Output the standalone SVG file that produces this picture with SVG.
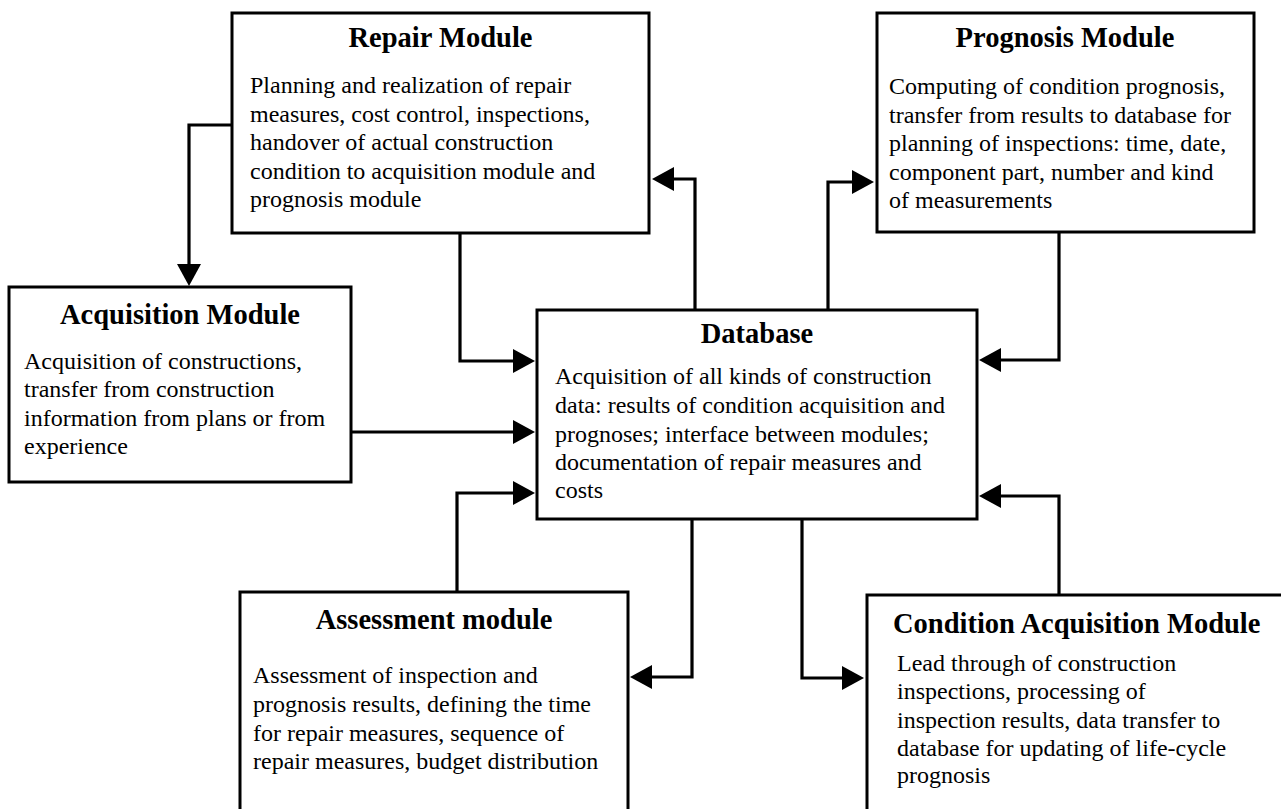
<svg xmlns="http://www.w3.org/2000/svg" width="1281" height="809" viewBox="0 0 1281 809">
<style>
.box{fill:#fff;stroke:#000;stroke-width:3}
.t{font-family:"Liberation Serif","Times New Roman",serif;font-weight:bold;font-size:28.5px;fill:#000}
.b{font-family:"Liberation Serif","Times New Roman",serif;font-size:24px;fill:#000}
.c{fill:none;stroke:#000;stroke-width:3.2;stroke-linejoin:miter;stroke-linecap:butt}
</style>
<defs>
<marker id="ah" markerUnits="userSpaceOnUse" markerWidth="24" markerHeight="24" refX="1" refY="12" orient="auto" overflow="visible">
<path d="M0,0 L22,12 L0,24 Z" fill="#000"/>
</marker>
</defs>
<rect width="1281" height="809" fill="#fff"/>

<g id="repair">
<rect class="box" x="232" y="13" width="417" height="220"/>
<text class="t" x="440.5" y="47" text-anchor="middle">Repair Module</text>
<text class="b" x="250" y="93">Planning and realization of repair</text>
<text class="b" x="250" y="122">measures, cost control, inspections,</text>
<text class="b" x="250" y="150">handover of actual construction</text>
<text class="b" x="250" y="179">condition to acquisition module and</text>
<text class="b" x="250" y="207">prognosis module</text>
</g>

<g id="prognosis">
<rect class="box" x="877" y="13" width="377" height="219"/>
<text class="t" x="1065" y="47" text-anchor="middle">Prognosis Module</text>
<text class="b" x="889" y="94">Computing of condition prognosis,</text>
<text class="b" x="889" y="123">transfer from results to database for</text>
<text class="b" x="889" y="151">planning of inspections: time, date,</text>
<text class="b" x="889" y="180">component part, number and kind</text>
<text class="b" x="889" y="208">of measurements</text>
</g>

<g id="acquisition">
<rect class="box" x="9" y="287" width="342" height="195"/>
<text class="t" x="180" y="324" text-anchor="middle">Acquisition Module</text>
<text class="b" x="24" y="369">Acquisition of constructions,</text>
<text class="b" x="24" y="397">transfer from construction</text>
<text class="b" x="24" y="426">information from plans or from</text>
<text class="b" x="24" y="454">experience</text>
</g>

<g id="database">
<rect class="box" x="537" y="310" width="440" height="209"/>
<text class="t" x="757" y="343" text-anchor="middle">Database</text>
<text class="b" x="555" y="384">Acquisition of all kinds of construction</text>
<text class="b" x="555" y="413">data: results of condition acquisition and</text>
<text class="b" x="555" y="442">prognoses; interface between modules;</text>
<text class="b" x="555" y="470">documentation of repair measures and</text>
<text class="b" x="555" y="498">costs</text>
</g>

<g id="assessment">
<rect class="box" x="240" y="592" width="388" height="240"/>
<text class="t" x="434" y="629" text-anchor="middle">Assessment module</text>
<text class="b" x="253" y="683">Assessment of inspection and</text>
<text class="b" x="253" y="712">prognosis results, defining the time</text>
<text class="b" x="253" y="741">for repair measures, sequence of</text>
<text class="b" x="253" y="769">repair measures, budget distribution</text>
</g>

<g id="condition">
<rect class="box" x="867" y="595" width="440" height="240"/>
<text class="t" x="893" y="633">Condition Acquisition Module</text>
<text class="b" x="897" y="671">Lead through of construction</text>
<text class="b" x="897" y="699">inspections, processing of</text>
<text class="b" x="897" y="728">inspection results, data transfer to</text>
<text class="b" x="897" y="756">database for updating of life-cycle</text>
<text class="b" x="897" y="783">prognosis</text>
</g>

<g id="connectors">
<path class="c" d="M232,125 H189 V265" marker-end="url(#ah)"/>
<path class="c" d="M460,233 V361 H514" marker-end="url(#ah)"/>
<path class="c" d="M351,432 H514" marker-end="url(#ah)"/>
<path class="c" d="M457,592 V493 H514" marker-end="url(#ah)"/>
<path class="c" d="M695,310 V179 H673" marker-end="url(#ah)"/>
<path class="c" d="M828,310 V182 H853" marker-end="url(#ah)"/>
<path class="c" d="M1059,232 V360 H1000" marker-end="url(#ah)"/>
<path class="c" d="M1059,595 V496 H1000" marker-end="url(#ah)"/>
<path class="c" d="M692,519 V677 H651" marker-end="url(#ah)"/>
<path class="c" d="M802,519 V678 H843" marker-end="url(#ah)"/>
</g>
</svg>
